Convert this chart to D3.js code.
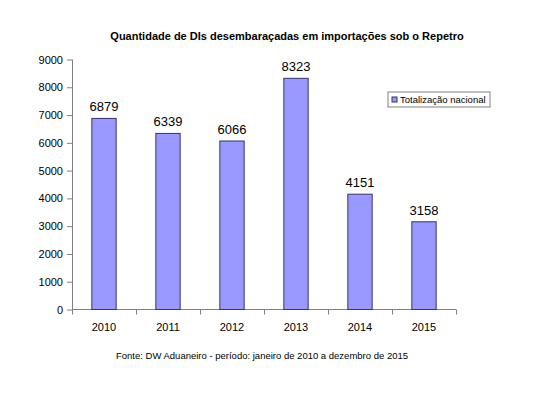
<!DOCTYPE html>
<html>
<head>
<meta charset="utf-8">
<script src="https://cdn.jsdelivr.net/npm/d3@7"></script>
<style>
  body { margin: 0; background: #fff; }
  text { font-family: Arial, "Liberation Sans", sans-serif; fill: #000; }
</style>
</head>
<body>
<script>
const width = 540;
const height = 393;

// dados
const years = ["2010", "2011", "2012", "2013", "2014", "2015"];
const totals = [6879, 6339, 6066, 8323, 4151, 3158];
const yTicks = [0, 1000, 2000, 3000, 4000, 5000, 6000, 7000, 8000, 9000];
const seriesName = "Totalização nacional";
const title = "Quantidade de DIs desembaraçadas em importações sob o Repetro";
const source = "Fonte: DW Aduaneiro - período: janeiro de 2010 a dezembro de 2015";

const svg = d3.select("body").append("svg").attr("width", width).attr("height", height);

const x = d3.scaleBand().domain(years).range([72, 456]).paddingInner(0.62).paddingOuter(0.31);
const y = d3.scaleLinear().domain([0, 9000]).range([309.5, 59.5]);

// titulo
svg.append("text")
    .attr("x", 287).attr("y", 40)
    .attr("text-anchor", "middle")
    .attr("font-size", "11px")
    .attr("font-weight", "bold")
    .text(title);

// eixo y
const yAxis = svg.append("g")
    .attr("transform", "translate(72,0)")
    .call(d3.axisLeft(y).tickValues(yTicks).tickSize(5).tickPadding(4).tickFormat(d3.format("d")));
yAxis.selectAll("path, line").attr("stroke", "#808080");
yAxis.selectAll("text").attr("font-size", "11px").attr("font-family", "Arial, 'Liberation Sans', sans-serif");
yAxis.select(".domain").attr("d", "M0.5," + y(9000) + "V" + y(0));

// eixo x com marcas entre categorias
const step = (x.range()[1] - x.range()[0]) / years.length;
const xAxis = svg.append("g").attr("transform", "translate(0," + y(0) + ")");
xAxis.append("line")
    .attr("x1", 72).attr("x2", 456).attr("stroke", "#808080");
xAxis.selectAll(".tick")
    .data(d3.range(years.length + 1))
    .enter()
    .append("line")
    .attr("x1", i => 72 + i * step + 0.5)
    .attr("x2", i => 72 + i * step + 0.5)
    .attr("y1", 0).attr("y2", 5)
    .attr("stroke", "#808080");
xAxis.selectAll(".lbl")
    .data(years)
    .enter()
    .append("text")
    .attr("x", d => x(d) + x.bandwidth() / 2)
    .attr("y", 21)
    .attr("text-anchor", "middle")
    .attr("font-size", "11px")
    .text(d => d);

// barras
svg.selectAll(".bar")
    .data(totals)
    .enter()
    .append("rect")
    .attr("class", "bar")
    .attr("x", (d, i) => x(years[i]))
    .attr("y", d => y(d))
    .attr("width", x.bandwidth())
    .attr("height", d => y(0) - y(d))
    .attr("fill", "#9999ff")
    .attr("stroke", "#333366")
    .attr("stroke-width", 1);

// rotulos de valor
svg.selectAll(".val")
    .data(totals)
    .enter()
    .append("text")
    .attr("x", (d, i) => x(years[i]) + x.bandwidth() / 2)
    .attr("y", d => y(d) - 7)
    .attr("text-anchor", "middle")
    .attr("font-size", "13px")
    .text(d => d);

// legenda
const lg = svg.append("g").attr("transform", "translate(388,92)");
lg.append("rect")
    .attr("width", 102).attr("height", 15)
    .attr("fill", "#fff").attr("stroke", "#808080");
lg.append("rect")
    .attr("x", 4).attr("y", 5).attr("width", 5).attr("height", 5)
    .attr("fill", "#9999ff").attr("stroke", "#333366");
lg.append("text")
    .attr("x", 12).attr("y", 11)
    .attr("font-size", "9.5px")
    .text(seriesName);

// fonte
svg.append("text")
    .attr("x", 262).attr("y", 359)
    .attr("text-anchor", "middle")
    .attr("font-size", "9.5px")
    .text(source);
</script>
</body>
</html>
